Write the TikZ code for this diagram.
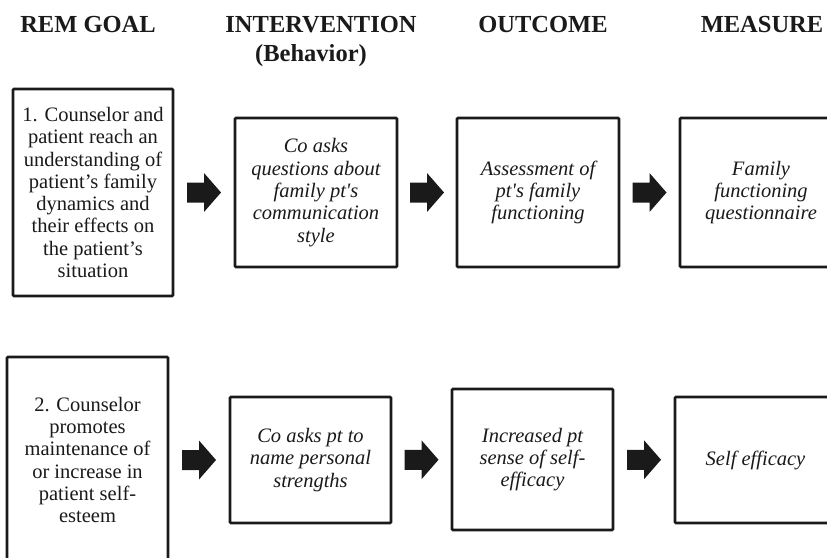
\documentclass[tikz,border=0pt]{standalone}
\usepackage{fontspec}
\setmainfont{Liberation Serif}
\usetikzlibrary{calc}
\definecolor{ink}{HTML}{1A1A1A}
\newcommand{\sq}{\textquotesingle}
\tikzset{
  box/.style={draw=ink, line width=2.6pt, rounded corners=1pt, align=center,
    inner sep=0pt, text=ink, font=\fontsize{20.5}{22.3}\selectfont},
  ibox/.style={box, font=\fontsize{20.5}{22.3}\selectfont\itshape},
  head/.style={anchor=base, text=ink, inner sep=0pt, font=\fontsize{24.5}{26}\selectfont\bfseries},
  blockarr/.pic={\fill[ink] (-17,-10) -- (0,-10) -- (0,-19.5) -- (17,0) -- (0,19.5) -- (0,10) -- (-17,10) -- cycle;}
}
\begin{document}
\begin{tikzpicture}[x=1pt,y=-1pt]
\useasboundingbox (0,0) rectangle (827,557);
\fill[white] (0,0) rectangle (827,557);
\clip (0,0) rectangle (827,557);
% headers
\node[head] (h1) at (88,32) {REM GOAL};
\node[head] (h2) at (321,32) {INTERVENTION};
\node[head] (h2b) at (311,61) {(Behavior)};
\node[head] (h3) at (543,32) {OUTCOME};
\node[head] (h4) at (762,32) {MEASURE};
% row 1
\node[box, minimum width=160, minimum height=207] (g1) at (93,192.5)
  {1. Counselor and\\patient reach an\\understanding of\\patient’s family\\dynamics and\\their effects on\\the patient’s\\situation};
\node[ibox, minimum width=162, minimum height=149] (i1) at (316,192.5)
  {Co asks\\questions about\\family pt\sq s\\communication\\style};
\node[ibox, minimum width=162, minimum height=149] (o1) at (538,192.5)
  {Assessment of\\pt\sq s family\\functioning};
\node[ibox, minimum width=162, minimum height=149] (m1) at (761,192.5)
  {Family\\functioning\\questionnaire};
% row 2
\node[box, minimum width=161, minimum height=206] (g2) at (87.5,460)
  {2. Counselor\\promotes\\maintenance of\\or increase in\\patient self-\\esteem};
\node[ibox, minimum width=161, minimum height=126] (i2) at (310.5,460)
  {Co asks pt to\\name personal\\strengths};
\node[ibox, minimum width=161, minimum height=141] (o2) at (532.5,459.5)
  {Increased pt\\sense of self-\\efficacy};
\node[ibox, minimum width=161, minimum height=126] (m2) at (755.5,460)
  {Self efficacy};
% arrows
\pic at ($(g1.east)!0.5!(i1.west)$) {blockarr};
\pic at ($(i1.east)!0.5!(o1.west)$) {blockarr};
\pic at ($(o1.east)!0.5!(m1.west)$) {blockarr};
\pic at ($(g2.east|-i2.west)!0.5!(i2.west)$) {blockarr};
\pic at ($(i2.east)!0.5!(o2.west)$) {blockarr};
\pic at ($(o2.east)!0.5!(m2.west)$) {blockarr};
\end{tikzpicture}
\end{document}
